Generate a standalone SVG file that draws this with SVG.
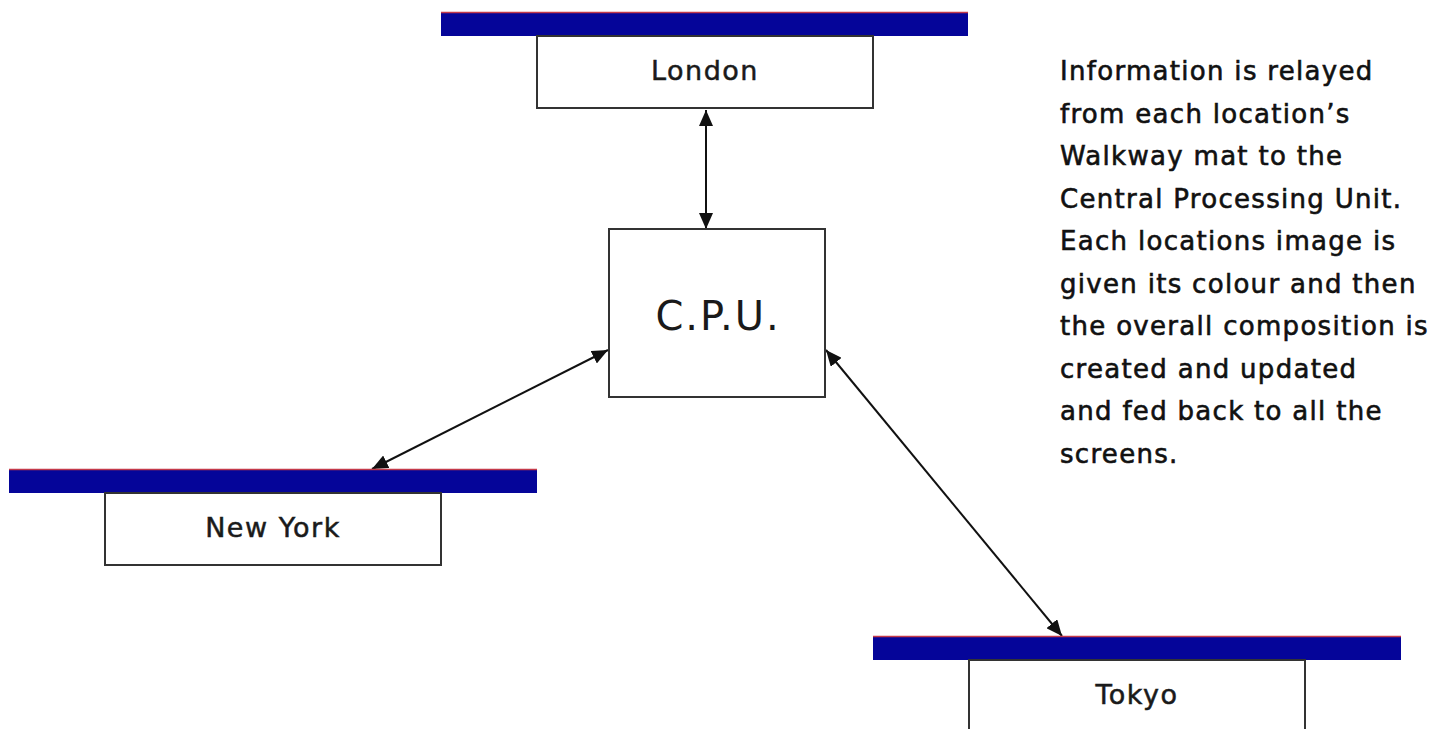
<svg xmlns="http://www.w3.org/2000/svg" width="1446" height="729" viewBox="0 0 1446 729">
<style>
.bar{fill:#050599}
.edge{stroke:#c43a4a;stroke-width:1.5}
.box{fill:#fff;stroke:#333;stroke-width:2}
.lbl{font-family:"DejaVu Sans",Arial,sans-serif;font-size:27px;letter-spacing:1.5px;fill:#1a1a1a;stroke:#1a1a1a;stroke-width:0.5;text-anchor:middle}
.cpu{font-family:"DejaVu Sans",Arial,sans-serif;font-size:40px;letter-spacing:2px;fill:#1a1a1a;text-anchor:middle}
.note{font-family:"DejaVu Sans",Arial,sans-serif;font-size:26px;letter-spacing:1.3px;fill:#111;stroke:#111;stroke-width:0.6}
.conn{stroke:#111;stroke-width:2;fill:none;marker-start:url(#ah);marker-end:url(#ah)}
</style>
<defs>
<marker id="ah" viewBox="0 0 16 14" refX="16" refY="7" markerWidth="16" markerHeight="14" markerUnits="userSpaceOnUse" orient="auto-start-reverse">
<path d="M0,0 L16,7 L0,14 z" fill="#111"/>
</marker>
</defs>
<rect width="1446" height="729" fill="#fff"/>
<g id="connectors">
<line class="conn" x1="706" y1="110" x2="706" y2="229"/>
<line class="conn" x1="372" y1="469" x2="608" y2="350"/>
<line class="conn" x1="826" y1="350" x2="1062" y2="636"/>
</g>
<g id="london">
<rect class="bar" x="441" y="12" width="527" height="24"/>
<line class="edge" x1="441" y1="12.5" x2="968" y2="12.5"/>
<rect class="box" x="537" y="36" width="336" height="72"/>
<text class="lbl" x="705" y="80">London</text>
</g>
<g id="cpu">
<rect class="box" x="609" y="229" width="216" height="168"/>
<text class="cpu" x="718" y="330">C.P.U.</text>
</g>
<g id="newyork">
<rect class="bar" x="9" y="469" width="528" height="24"/>
<line class="edge" x1="9" y1="469.5" x2="537" y2="469.5"/>
<rect class="box" x="105" y="493" width="336" height="72"/>
<text class="lbl" x="273" y="537">New York</text>
</g>
<g id="tokyo">
<rect class="bar" x="873" y="636" width="528" height="24"/>
<line class="edge" x1="873" y1="636.5" x2="1401" y2="636.5"/>
<rect class="box" x="969" y="660" width="336" height="80"/>
<text class="lbl" x="1137" y="704">Tokyo</text>
</g>
<g id="note">
<text class="note" x="1060" y="80">Information is relayed</text>
<text class="note" x="1060" y="122.5">from each location’s</text>
<text class="note" x="1060" y="165">Walkway mat to the</text>
<text class="note" x="1060" y="207.5">Central Processing Unit.</text>
<text class="note" x="1060" y="250">Each locations image is</text>
<text class="note" x="1060" y="292.5">given its colour and then</text>
<text class="note" x="1060" y="335">the overall composition is</text>
<text class="note" x="1060" y="377.5">created and updated</text>
<text class="note" x="1060" y="420">and fed back to all the</text>
<text class="note" x="1060" y="462.5">screens.</text>
</g>
</svg>
